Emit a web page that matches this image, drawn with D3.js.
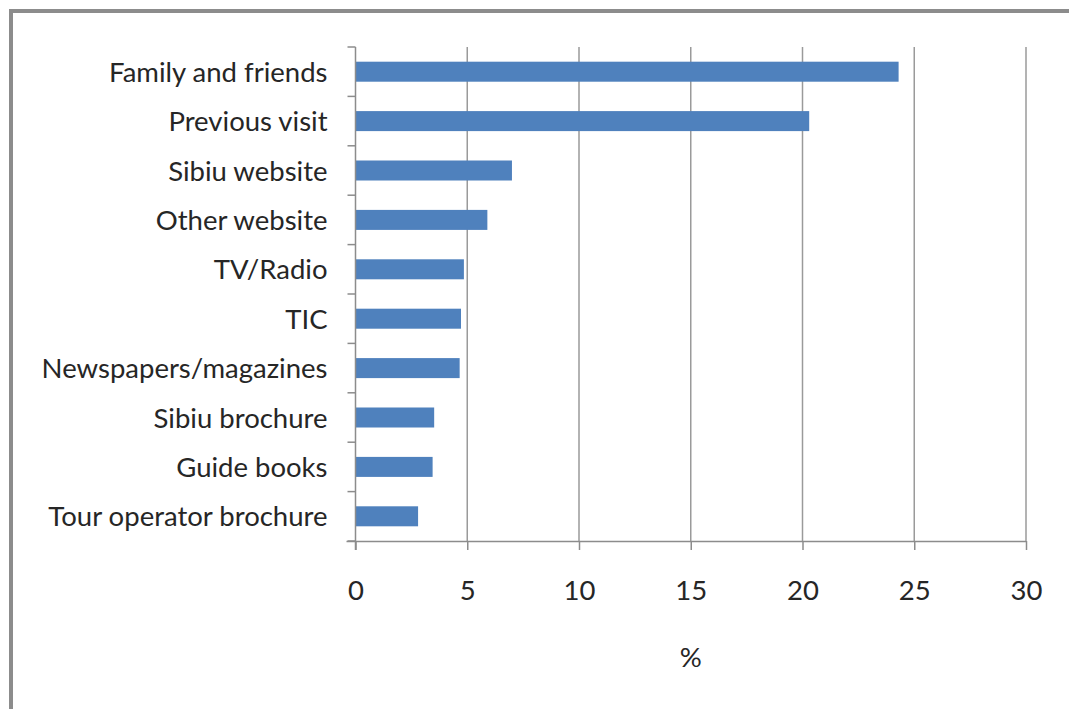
<!DOCTYPE html>
<html>
<head>
<meta charset="utf-8">
<script src="https://cdn.jsdelivr.net/npm/d3@7"></script>
<style>
  html, body { margin: 0; padding: 0; background: #fff; }
  svg { display: block; }
  text { font-family: Lato, "Open Sans", sans-serif; fill: #262626; }
</style>
</head>
<body>
<svg id="chart" width="1069" height="709"></svg>
<script>
// Information sources used by visitors (share of respondents, %)
const categories = [
  "Family and friends",
  "Previous visit",
  "Sibiu website",
  "Other website",
  "TV/Radio",
  "TIC",
  "Newspapers/magazines",
  "Sibiu brochure",
  "Guide books",
  "Tour operator  brochure"
];
const values = [24.3, 20.3, 7.0, 5.9, 4.85, 4.72, 4.66, 3.52, 3.45, 2.8];
const xTicks = [0, 5, 10, 15, 20, 25, 30];
const xTitle = "%";

const svg = d3.select("#chart");
const W = 1069, H = 709;
const FS = 27.5;

// chart frame (runs off the right and bottom edges)
svg.append("path")
  .attr("d", `M11,${H + 5} L11,11 L${W + 5},11`)
  .attr("fill", "none")
  .attr("stroke", "#8c8c8c")
  .attr("stroke-width", 4);

const plot = { left: 355.5, right: 1026, top: 47, bottom: 541 };

const x = d3.scaleLinear().domain([0, 30]).range([plot.left, plot.right]);
const y = d3.scaleBand().domain(categories).range([plot.top, plot.bottom]).paddingInner(0.595).paddingOuter(0.2975);
const yEdges = d3.scaleBand().domain(categories).range([plot.top, plot.bottom]);

// vertical gridlines
svg.append("g").selectAll("line")
  .data(xTicks.filter(t => t > 0))
  .join("line")
  .attr("x1", d => x(d)).attr("x2", d => x(d))
  .attr("y1", plot.top).attr("y2", plot.bottom)
  .attr("stroke", "#9a9a9a")
  .attr("stroke-width", 1.5);

// bars
svg.append("g").selectAll("rect")
  .data(categories.map((c, i) => ({ c, v: values[i] })))
  .join("rect")
  .attr("x", x(0))
  .attr("y", d => y(d.c))
  .attr("width", d => x(d.v) - x(0))
  .attr("height", y.bandwidth())
  .attr("fill", "#4f81bd");

// x axis
const xAxis = d3.axisBottom(x).tickValues(xTicks).tickSize(9).tickPadding(30).tickFormat(d3.format("d"));
const gx = svg.append("g").attr("transform", `translate(0,${plot.bottom})`).call(xAxis);
gx.select(".domain").attr("stroke", "#8c8c8c").attr("stroke-width", 1.5)
  .attr("d", `M${plot.left - 9},0.5H${plot.right}`);
gx.selectAll(".tick line").attr("stroke", "#8c8c8c").attr("stroke-width", 1.5);
gx.selectAll(".tick text").attr("font-size", FS).attr("font-family", "Lato, sans-serif").attr("fill", "#262626");

// y axis: category boundaries as ticks
const gy = svg.append("g");
gy.append("line")
  .attr("x1", plot.left).attr("x2", plot.left)
  .attr("y1", plot.top).attr("y2", plot.bottom + 9)
  .attr("stroke", "#8c8c8c").attr("stroke-width", 1.5);
const edges = categories.map(c => yEdges(c)).concat([plot.bottom]);
gy.selectAll("line.edge")
  .data(edges)
  .join("line")
  .attr("class", "edge")
  .attr("x1", plot.left - 8).attr("x2", plot.left)
  .attr("y1", d => d).attr("y2", d => d)
  .attr("stroke", "#8c8c8c").attr("stroke-width", 1.5);

// category labels
gy.selectAll("text")
  .data(categories)
  .join("text")
  .attr("x", plot.left - 28)
  .attr("y", d => yEdges(d) + yEdges.bandwidth() / 2 + 10)
  .attr("text-anchor", "end")
  .attr("font-size", FS)
  .text(d => d);

// axis title
svg.append("text")
  .attr("x", x(15))
  .attr("y", 667)
  .attr("text-anchor", "middle")
  .attr("font-size", FS)
  .text(xTitle);
</script>
</body>
</html>
